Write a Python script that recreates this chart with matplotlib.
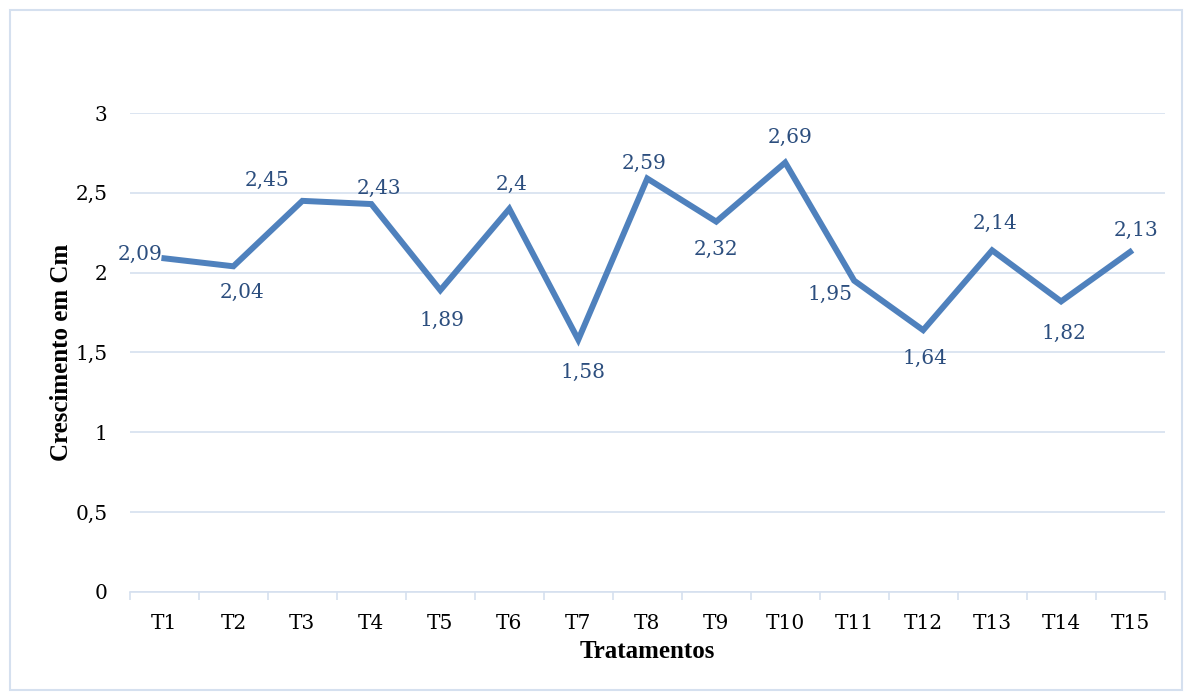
import matplotlib.pyplot as plt
from matplotlib.patches import Rectangle

treatments = ["T1", "T2", "T3", "T4", "T5", "T6", "T7", "T8", "T9", "T10",
              "T11", "T12", "T13", "T14", "T15"]
growth = [2.09, 2.04, 2.45, 2.43, 1.89, 2.4, 1.58, 2.59, 2.32, 2.69,
          1.95, 1.64, 2.14, 1.82, 2.13]
y_ticks = [0, 0.5, 1, 1.5, 2, 2.5, 3]
y_ticklabels = ["0", "0,5", "1", "1,5", "2", "2,5", "3"]

# data label placement (pixel offsets from the point, alignment)
label_pos = [(-2, 4, "right"), (9, -26, "center"), (-35, 20, "center"),
             (8, 16, "center"), (2, -30, "center"), (2, 24, "center"),
             (5, -33, "center"), (-3, 15, "center"), (0, -28, "center"),
             (5, 25, "center"), (-2, -14, "right"), (2, -28, "center"),
             (3, 27, "center"), (3, -32, "center"), (6, 22, "center")]

plt.rcParams["font.family"] = ["DejaVu Serif"]

line_blue = "#4f81bd"
label_blue = "#2c4e7e"
grid_blue = "#d5e0ef"

fig = plt.figure(figsize=(11.92, 6.98), dpi=100)
ax = fig.add_axes([0.109, 0.152, 0.868, 0.686])

x = list(range(len(treatments)))
ax.plot(x, growth, color=line_blue, lw=4.3, solid_joinstyle="miter", zorder=3)

for xi, yi, (dx, dy, ha) in zip(x, growth, label_pos):
    txt = f"{yi:g}".replace(".", ",")
    ax.annotate(txt, (xi, yi), xytext=(dx, dy), textcoords="offset pixels",
                ha=ha, va="center", fontsize=14.5, color=label_blue, zorder=4)

ax.set_xlim(-0.5, len(treatments) - 0.5)
ax.set_ylim(0, 3)
ax.set_yticks(y_ticks)
ax.set_yticklabels(y_ticklabels)
ax.set_xticks(x)
ax.set_xticklabels(treatments)
ax.set_xticks([i - 0.5 for i in range(len(treatments) + 1)], minor=True)
ax.tick_params(axis="x", which="major", length=0, pad=16, labelsize=14.5)
ax.tick_params(axis="x", which="minor", length=6, width=1.2, color=grid_blue)
ax.tick_params(axis="y", length=0, pad=16, labelsize=14.5)

ax.grid(axis="y", color=grid_blue, lw=1.2)
ax.set_axisbelow(True)
for side in ["top", "right", "left"]:
    ax.spines[side].set_visible(False)
ax.spines["bottom"].set_color(grid_blue)
ax.spines["bottom"].set_linewidth(1.2)

ax.set_xlabel("Tratamentos", fontsize=18, fontweight="bold", family="Liberation Serif",
              labelpad=5)
ax.set_ylabel("Crescimento em Cm", fontsize=18, fontweight="bold",
              family="Liberation Serif", labelpad=2)

fig.patches.append(Rectangle((0.008, 0.012), 0.984, 0.974, transform=fig.transFigure,
                             fill=False, edgecolor=grid_blue, lw=1.5))

fig.savefig("out.png", dpi=100, facecolor="white")
